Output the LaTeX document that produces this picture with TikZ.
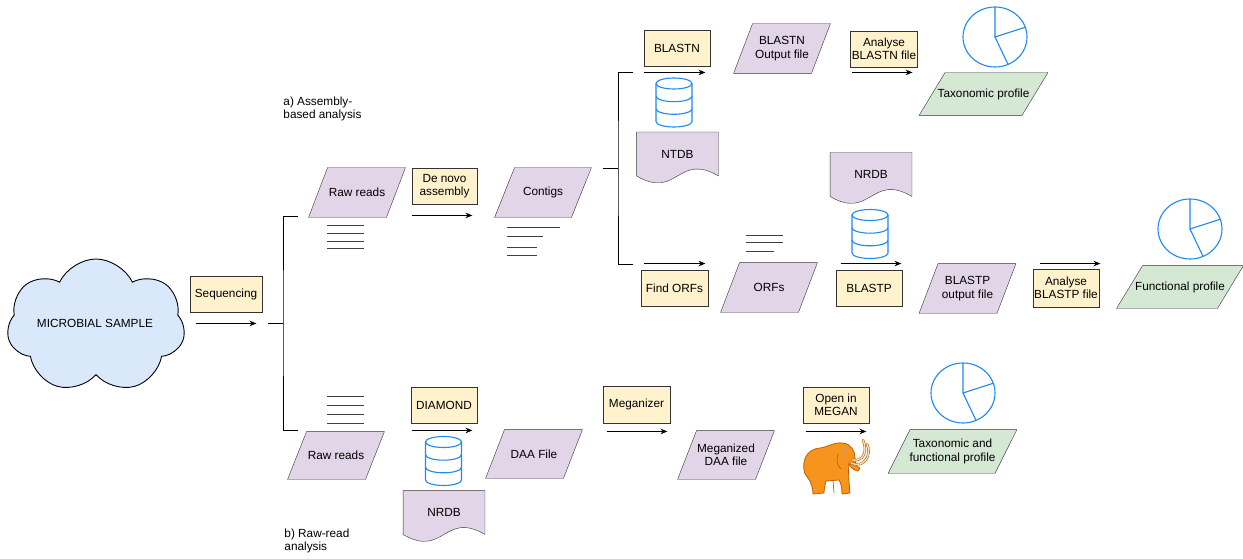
\documentclass[tikz,border=0pt]{standalone}
\usepackage{fontspec}
\setmainfont{Liberation Sans}
\usetikzlibrary{shapes.symbols,backgrounds,arrows.meta}
\definecolor{taskfill}{HTML}{FFF2CC}
\definecolor{filefill}{HTML}{E1D5E7}
\definecolor{profilefill}{HTML}{D5E8D4}
\definecolor{cloudfill}{HTML}{DAE8FC}
\definecolor{edgegray}{HTML}{333333}
\definecolor{iconblue}{HTML}{1E88F5}
\definecolor{mammothorange}{HTML}{F7941D}
\definecolor{mammothedge}{HTML}{C25E00}
\definecolor{tuskfill}{HTML}{F6E7C8}

\tikzset{
  dbicon/.pic={
    \filldraw[draw=iconblue, fill=white, line width=1.1pt]
      (-18pt,19pt) -- (-18pt,-19pt) arc[start angle=180, end angle=360, x radius=18pt, y radius=5.5pt]
      -- (18pt,19pt) arc[start angle=0, end angle=180, x radius=18pt, y radius=5.5pt] -- cycle;
    \draw[iconblue, line width=1.1pt] (-18pt,19pt) arc[start angle=180, end angle=360, x radius=18pt, y radius=5.5pt];
    \foreach \h in {6.3pt,-6.3pt}
      \draw[iconblue, line width=1.1pt] (-18pt,\h) arc[start angle=180, end angle=360, x radius=18pt, y radius=5.5pt];
  },
  piechart/.pic={
    \draw[iconblue, line width=1.1pt] (0pt,0pt) ellipse[x radius=32pt, y radius=30pt];
    \draw[iconblue, line width=1.1pt] (90:30pt) -- (0pt,0pt) -- (19:32pt and 30pt);
    \draw[iconblue, line width=1.1pt] (0pt,0pt) -- (-66:32pt and 30pt);
  },
  mammoth/.pic={
    \filldraw[fill=mammothorange, draw=mammothedge, line width=0.8pt, line join=round]
      (-30,8) .. controls (-34,-4) and (-29,-17) .. (-15,-18)
      .. controls (-7,-19) and (-1,-24) .. (8,-23)
      .. controls (16,-22) and (20,-15) .. (20,-8)
      .. controls (20,-2) and (22,1) .. (25,2)
      -- (23,5)
      .. controls (18,4) and (15,1) .. (14,-3)
      .. controls (13,4) and (14,18) .. (15,27)
      -- (7,28)
      .. controls (7,22) and (6,17) .. (4,14)
      -- (-9,15)
      .. controls (-10,19) and (-11,23) .. (-11,27)
      -- (-22,28)
      .. controls (-22,22) and (-24,16) .. (-27,12)
      -- cycle;
    \draw[mammothedge, line width=0.7pt] (3,-12) .. controls (1,-6) and (2,0) .. (6,3);
    \draw[mammothedge, line width=0.7pt] (-2,14) -- (-1,27);
    \draw[draw=mammothedge, double=tuskfill, double distance=1.3pt, line width=0.6pt, line cap=round]
      (17,-6) .. controls (28,-4) and (33,-14) .. (28,-26);
    \draw[draw=mammothedge, double=tuskfill, double distance=1.3pt, line width=0.6pt, line cap=round]
      (16,-3) .. controls (30,3) and (37,-12) .. (32,-22);
    \fill[iconblue!60] (10,-15) circle[radius=1.3pt];
  }
}

\begin{document}
\begin{tikzpicture}[x=1pt,y=-1pt,>={Stealth[length=7pt,width=5.5pt]},line width=0.9pt,font=\fontsize{11.8}{13.5}\selectfont]
  \tikzstyle{task}=[rectangle, draw=edgegray, fill=taskfill, inner sep=1pt, minimum width=66pt, minimum height=36pt, align=center]
  \tikzstyle{datafile}=[rectangle, inner sep=1pt, minimum width=96pt, minimum height=49pt, align=center]
  \tikzstyle{profile}=[datafile, minimum width=128pt, minimum height=42pt]
  \tikzstyle{dbdoc}=[rectangle, inner sep=0pt, minimum width=81pt, minimum height=43pt]
  \tikzstyle{outline}=[draw=edgegray, line join=round]
  \tikzstyle{readline}=[draw=black!75, line width=0.8pt]
  \tikzstyle{branchlabel}=[anchor=west, align=left, inner sep=0pt]

  \useasboundingbox (0,0) rectangle (1243,559);

  \node[cloud, cloud puffs=7, cloud puff arc=130, draw=black, fill=cloudfill, minimum width=178pt, minimum height=134pt] (sample) at (96,326) {};
  \node (sampletext) at (95,323) {MICROBIAL SAMPLE};
  \node[task, minimum width=72pt] (seq) at (226,294) {Sequencing};

  \node[datafile] (rawa) at (357,192.5) {Raw reads};
  \node[task, minimum width=65pt] (denovo) at (444.5,186) {De novo\\assembly};
  \node[datafile] (contigs) at (543,192.5) {Contigs};

  \node[task] (blastn) at (677,48) {BLASTN};
  \pic (dbnt) at (674,102.5) {dbicon};
  \node[dbdoc] (ntdb) at (677.5,154) {NTDB};
  \node[datafile] (blastnout) at (782,48.5) {BLASTN\\Output file};
  \node[task] (anblastn) at (884,49) {Analyse\\BLASTN file};
  \pic (taxpie) at (995,37) {piechart};
  \node[profile] (taxprof) at (983.5,94) {Taxonomic profile};

  \node[task, minimum width=67pt] (findorfs) at (674.5,288) {Find ORFs};
  \node[datafile] (orfs) at (769,287.5) {ORFs};
  \node[dbdoc] (nrdbp) at (871,174.5) {NRDB};
  \pic (dbnr) at (870,234) {dbicon};
  \node[task] (blastp) at (869,288) {BLASTP};
  \node[datafile] (blastpout) at (967.5,288.5) {BLASTP\\output file};
  \node[task, minimum height=38pt] (anblastp) at (1066,288) {Analyse\\BLASTP file};
  \pic (funcpie) at (1190,229) {piechart};
  \node[profile, minimum width=126pt] (funcprof) at (1180,287) {Functional profile};

  \node[datafile, minimum height=47pt] (rawb) at (336,455.5) {Raw reads};
  \node[task] (diamond) at (444,405) {DIAMOND};
  \pic (dbdia) at (443.5,461) {dbicon};
  \node[dbdoc] (nrdbd) at (444,512.5) {NRDB};
  \node[datafile, minimum height=48pt] (daa) at (534,454) {DAA File};
  \node[task, minimum width=67pt, minimum height=37pt] (meganizer) at (636.5,404.5) {Meganizer};
  \node[datafile, minimum height=48pt] (megdaa) at (726,455) {Meganized\\DAA file};
  \node[task] (openmegan) at (836,405) {Open in\\MEGAN};
  \pic (megan) at (835,466) {mammoth};
  \pic (bothpie) at (963,393) {piechart};
  \node[profile, minimum height=43pt] (taxfunc) at (952.5,451.5) {Taxonomic and\\functional profile};

  \node[branchlabel] (asmlabel) at (283,109) {a) Assembly-\\based analysis};
  \node[branchlabel] (rawlabel) at (284,541) {b) Raw-read\\analysis};

  \draw[->] ([xshift=6pt,yshift=-11pt]seq.south west) -- ([xshift=-6pt,yshift=-11pt]seq.south east);
  \draw[->] ([yshift=-11pt]denovo.south west) -- ([xshift=-5pt,yshift=-11pt]denovo.south east);
  \draw[->] ([yshift=-6pt]blastn.south west) -- ([xshift=-5pt,yshift=-6pt]blastn.south east);
  \draw[->] ([xshift=2pt,yshift=-5pt]anblastn.south west) -- ([xshift=-5pt,yshift=-5pt]anblastn.south east);
  \draw[->] ([xshift=3pt,yshift=6pt]findorfs.north west) -- ([xshift=-3pt,yshift=6pt]findorfs.north east);
  \draw[->] ([xshift=5pt,yshift=6pt]blastp.north west) -- ([xshift=-1pt,yshift=6pt]blastp.north east);
  \draw[->] ([xshift=7pt,yshift=5pt]anblastp.north west) -- ([xshift=1pt,yshift=5pt]anblastp.north east);
  \draw[->] ([xshift=1pt,yshift=-7pt]diamond.south west) -- ([xshift=-5pt,yshift=-7pt]diamond.south east);
  \draw[->] ([xshift=4pt,yshift=-8pt]meganizer.south west) -- ([xshift=-3pt,yshift=-8pt]meganizer.south east);
  \draw[->] ([xshift=3pt,yshift=-8pt]openmegan.south west) -- ([xshift=-3pt,yshift=-8pt]openmegan.south east);

  \coordinate (seqout) at (268,323);
  \coordinate (forka) at (283,323);
  \coordinate (asmin) at (298,216);
  \coordinate (rawin) at (298,430);
  \draw (seqout) -- (forka);
  \draw (asmin) -| (forka) |- (rawin);

  \coordinate (contigsout) at (603,168);
  \coordinate (forkb) at (618,168);
  \coordinate (blastnin) at (633,72);
  \coordinate (orfin) at (633,264);
  \draw (contigsout) -- (forkb);
  \draw (blastnin) -| (forkb) |- (orfin);

  \foreach \y in {225,233,241,248} \draw[readline] (327,\y) -- (364,\y);
  \foreach \y in {396,405,414,423} \draw[readline] (327,\y) -- (364,\y);
  \foreach \y/\l in {227/53,236/36,247/30,255/30} \draw[readline] (507,\y) -- ++(\l,0);
  \foreach \y/\l in {235/37,242/37,251/28} \draw[readline] (746,\y) -- ++(\l,0);

  \begin{scope}[on background layer]
    \foreach \n/\s/\c in {rawa/19/filefill, contigs/20/filefill, blastnout/19/filefill, orfs/19/filefill,
        blastpout/19/filefill, rawb/19/filefill, daa/19/filefill, megdaa/19/filefill,
        taxprof/26/profilefill, funcprof/26/profilefill, taxfunc/22/profilefill}
      \draw[outline, fill=\c] (\n.south west) -- ([xshift=-\s pt]\n.south east) -- (\n.north east)
        -- ([xshift=\s pt]\n.north west) -- cycle;
    \foreach \d in {ntdb,nrdbp,nrdbd}
      \draw[outline, fill=filefill] (\d.north west) -- (\d.north east) -- (\d.south east)
        .. controls ([yshift=24pt]\d.south) and ([yshift=-24pt]\d.south) .. (\d.south west) -- cycle;
  \end{scope}
\end{tikzpicture}
\end{document}
